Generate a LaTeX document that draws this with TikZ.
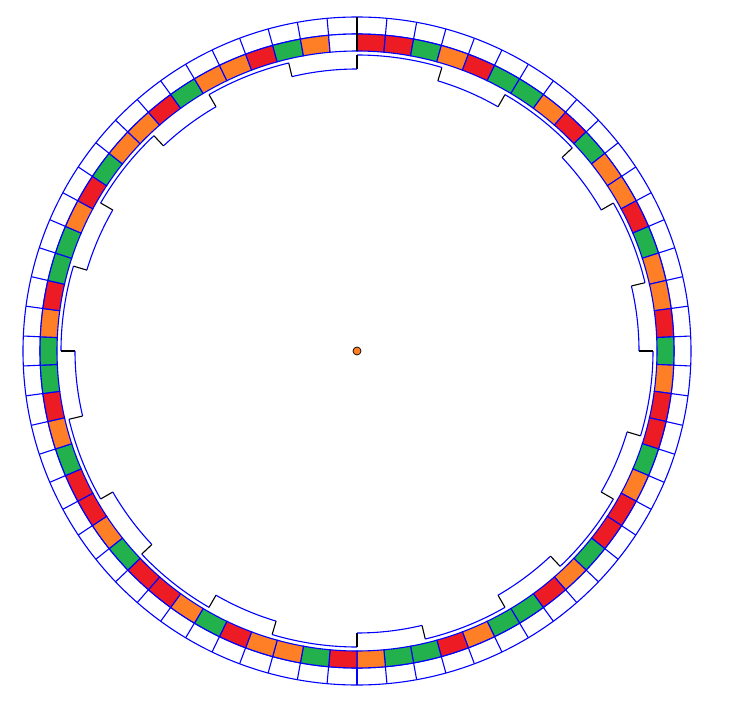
\documentclass[tikz,border=0pt]{standalone}
\usepackage{xcolor}
\usetikzlibrary{calc}
\definecolor{ringblue}{HTML}{0000FF}
\definecolor{segR}{HTML}{ED1C24}
\definecolor{segG}{HTML}{22B14C}
\definecolor{segO}{HTML}{FF7F27}
\definecolor{segW}{HTML}{FFFFFF}
\tikzset{
  ringline/.style={draw=ringblue, line width=1.1pt},
  stepline/.style={draw=black, line width=1.1pt},
}
\begin{document}
\begin{tikzpicture}
  \useasboundingbox (0pt,0pt) rectangle (755pt,-714pt);
  \coordinate (ctr) at (357pt,-351pt);

  \begin{scope}[shift={(ctr)}]
  %% Outer ring of empty cells
  \draw[ringline] (0,0) circle (334pt);
  \draw[ringline] (0,0) circle (317pt);
  \foreach \k in {0,...,69} {
    \pgfmathsetmacro{\sa}{90-\k*(360/70)}
    \draw[ringline] (\sa:317pt) -- (\sa:334pt);
  }

  %% Coloured ring, clockwise from the top
  \foreach \c [count=\k from 0] in {R,R,G,O,R,G,G,O,R,G,
                                   O,O,R,G,O,O,R,G,O,R,
                                   R,G,O,R,R,G,O,R,G,G,
                                   O,R,G,G,O,R,G,O,O,R,
                                   G,O,R,R,G,O,R,R,G,O,
                                   R,G,G,O,R,G,G,O,R,G,
                                   O,O,R,G,O,O,R,G,O,W} {
    \pgfmathsetmacro{\sa}{90-\k*(360/70)}
    \pgfmathsetmacro{\ea}{\sa-(360/70)}
    \filldraw[ringline, fill=seg\c] (\sa:300pt)
      arc[start angle=\sa, end angle=\ea, radius=300pt]
      -- (\ea:317pt) arc[start angle=\ea, end angle=\sa, radius=317pt]
      -- cycle;
  }

  %% Zero mark
  \draw[stepline] (90:300pt) -- (90:334pt);

  %% Stepped inner contour (12 teeth)
  \foreach \ang in {0,30,...,330} {
    \pgfmathsetmacro{\ma}{\ang+40/3}
    \pgfmathsetmacro{\na}{\ang+30}
    \draw[ringline] (\ang:282pt)
      arc[start angle=\ang, end angle=\ma, radius=282pt];
    \draw[stepline] (\ma:282pt) -- (\ma:296pt);
    \draw[ringline] (\ma:296pt)
      arc[start angle=\ma, end angle=\na, radius=296pt];
    \draw[stepline] (\na:296pt) -- (\na:282pt);
  }

  %% Centre
  \filldraw[fill=segO, draw=black, line width=0.7pt] (0,0) circle (4pt);
  \end{scope}
\end{tikzpicture}
\end{document}
